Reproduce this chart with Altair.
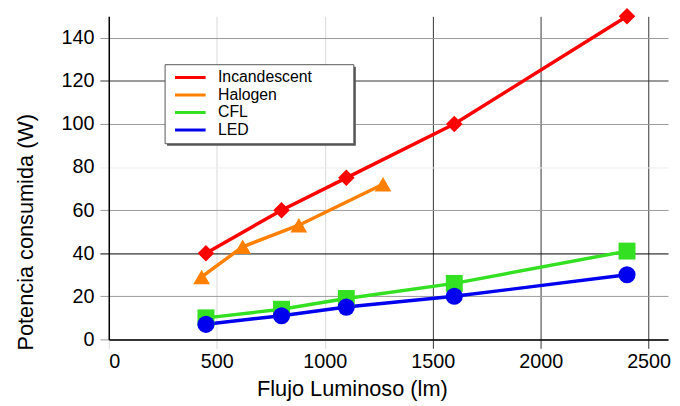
import altair as alt
import pandas as pd

series = ["Incandescent", "Halogen", "CFL", "LED"]
colors = ["#ff0000", "#ff8000", "#33e022", "#0000ee"]

inc_lm = [450, 800, 1100, 1600, 2400]
inc_w = [40, 60, 75, 100, 150]
hal_lm = [430, 620, 880, 1270]
hal_w = [29, 43, 53, 72]
cfl_lm = [450, 800, 1100, 1600, 2400]
cfl_w = [10, 14, 19, 26, 41]
led_lm = [450, 800, 1100, 1600, 2400]
led_w = [7, 11, 15, 20, 30]

x_ticks = [0, 500, 1000, 1500, 2000, 2500]
y_ticks = [0, 20, 40, 60, 80, 100, 120, 140]

rows = []
for name, xs, ys in [("Incandescent", inc_lm, inc_w), ("Halogen", hal_lm, hal_w),
                     ("CFL", cfl_lm, cfl_w), ("LED", led_lm, led_w)]:
    for a, b in zip(xs, ys):
        rows.append({"serie": name, "lumen": a, "watts": b})
df = pd.DataFrame(rows)

FONT = "Liberation Sans"

x_grid = {"condition": [{"test": "datum.value >= 1500", "value": "#333333"}],
          "value": "#d8d8d8"}
y_grid = {"condition": [{"test": "datum.value == 40", "value": "#000000"},
                        {"test": "datum.value == 120", "value": "#333333"},
                        {"test": "datum.value == 80", "value": "#eeeeee"}],
          "value": "#999999"}

x_enc = alt.X("lumen:Q",
              scale=alt.Scale(domain=[0, 2590], nice=False, zero=True),
              axis=alt.Axis(values=x_ticks, title="Flujo Luminoso (lm)",
                            format="d", gridColor=x_grid, tickColor=x_grid,
                            tickSize=9, labelPadding=3,
                            titleX=246, titleY=57, titleBaseline="alphabetic",
                            titleAlign="center", titleAnchor="start"))
y_enc = alt.Y("watts:Q",
              scale=alt.Scale(domain=[0, 150], nice=False),
              axis=alt.Axis(values=y_ticks, title="Potencia consumida (W)",
                            gridColor=y_grid, tickColor=y_grid,
                            tickSize=9, labelPadding=6,
                            titleX=-77, titleY=218, titleBaseline="alphabetic",
                            titleAlign="center", titleAngle=-90, titleAnchor="start"))

# legend frame (decoration only) with its drop shadow
frame_df = pd.DataFrame({"k": [0]})
shadow = alt.Chart(frame_df).mark_rect(fill="#555555").encode(
    x=alt.value(59), x2=alt.value(250), y=alt.value(51), y2=alt.value(131))
frame = alt.Chart(frame_df).mark_rect(fill="white", stroke="#555555", strokeWidth=1).encode(
    x=alt.value(57), x2=alt.value(248), y=alt.value(49), y2=alt.value(129))

lines = alt.Chart(df).mark_line(strokeWidth=3.5).encode(
    x=x_enc, y=y_enc,
    color=alt.Color("serie:N", scale=alt.Scale(domain=series, range=colors), sort=series,
                    legend=alt.Legend(
                        title=None, orient="none", legendX=57, legendY=49,
                        symbolType="stroke", symbolSize=961, symbolStrokeWidth=3,
                        clipHeight=16, rowPadding=1.7, padding=5,
                        symbolOffset=3.5, labelOffset=11,
                        labelFontSize=16, labelFont=FONT, labelColor="#000",
                        labelLimit=300)),
    order="lumen:Q",
)

points = alt.Chart(df).mark_point(filled=True, opacity=1, strokeWidth=0).encode(
    x="lumen:Q", y="watts:Q",
    color=alt.Color("serie:N", scale=alt.Scale(domain=series, range=colors), legend=None),
    shape=alt.Shape("serie:N", scale=alt.Scale(domain=series,
                    range=["diamond", "triangle-up", "square", "circle"]), legend=None),
    size=alt.Size("serie:O", scale=alt.Scale(domain=series, range=[280, 300, 160, 180]),
                  legend=None),
)

chart = alt.layer(shadow, frame, lines, points).resolve_scale(
    color="independent"
).resolve_legend(color="independent").properties(
    width=566, height=327,
    autosize=alt.AutoSizeParams(type="none"),
    padding={"left": 102, "top": 6, "right": 4, "bottom": 64},
).configure(background="white").configure_view(stroke=None).configure_axis(
    labelFont=FONT, titleFont=FONT, labelFontSize=20, titleFontSize=22,
    labelColor="#000", titleColor="#000", titleFontWeight="normal",
    domainColor="#000", domainWidth=1.5, gridWidth=1, tickWidth=1,
)

chart.save("out.html", embed_options={"renderer": "svg", "actions": False})
